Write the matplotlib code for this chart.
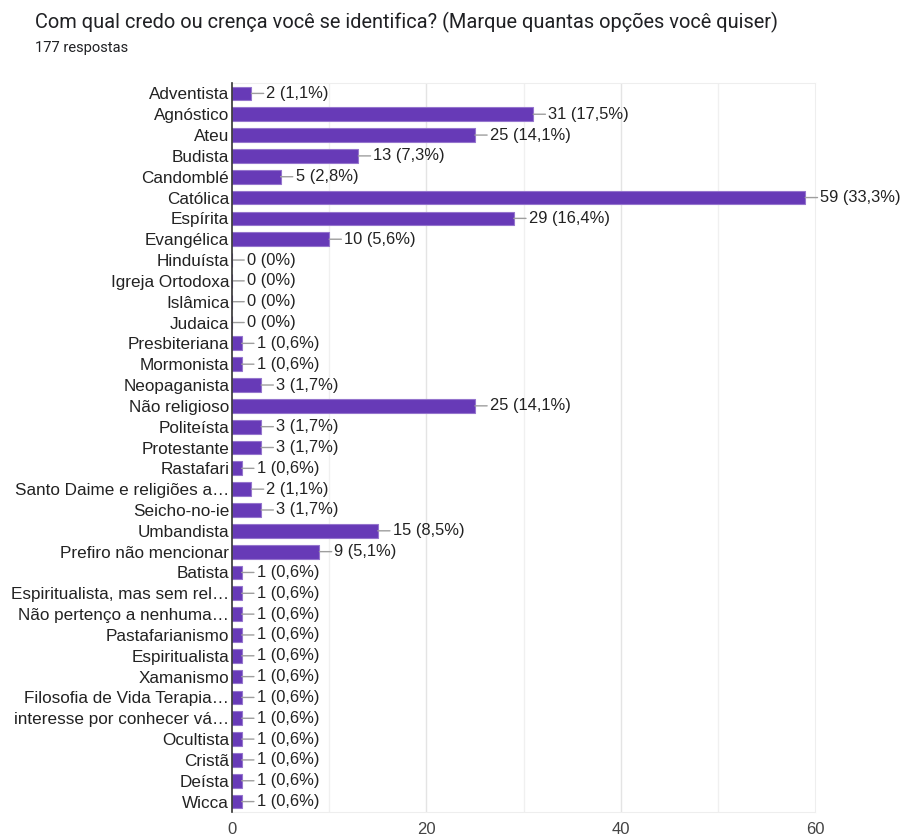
import matplotlib
matplotlib.use("Agg")
import matplotlib.pyplot as plt
import numpy as np

# Dados
categorias = [
    "Adventista", "Agnóstico", "Ateu", "Budista", "Candomblé", "Católica",
    "Espírita", "Evangélica", "Hinduísta", "Igreja Ortodoxa", "Islâmica",
    "Judaica", "Presbiteriana", "Mormonista", "Neopaganista", "Não religioso",
    "Politeísta", "Protestante", "Rastafari", "Santo Daime e religiões a…",
    "Seicho-no-ie", "Umbandista", "Prefiro não mencionar", "Batista",
    "Espiritualista, mas sem rel…", "Não pertenço a nenhuma…",
    "Pastafarianismo", "Espiritualista", "Xamanismo",
    "Filosofia de Vida Terapia…", "interesse por conhecer vá…", "Ocultista",
    "Cristã", "Deísta", "Wicca",
]
valores = [2, 31, 25, 13, 5, 59, 29, 10, 0, 0, 0, 0, 1, 1, 3, 25, 3, 3, 1, 2,
           3, 15, 9, 1, 1, 1, 1, 1, 1, 1, 1, 1, 1, 1, 1]
percentuais = ["1,1", "17,5", "14,1", "7,3", "2,8", "33,3", "16,4", "5,6",
               "0", "0", "0", "0", "0,6", "0,6", "1,7", "14,1", "1,7", "1,7",
               "0,6", "1,1", "1,7", "8,5", "5,1", "0,6", "0,6", "0,6", "0,6",
               "0,6", "0,6", "0,6", "0,6", "0,6", "0,6", "0,6", "0,6"]
ticks_x = [0, 20, 40, 60]

titulo = "Com qual credo ou crença você se identifica? (Marque quantas opções você quiser)"
subtitulo = "177 respostas"

fig = plt.figure(figsize=(9.03, 8.38), dpi=100)
ax = fig.add_axes([232 / 903, 1 - 812 / 838, (815 - 232) / 903, (812 - 83) / 838])

y = np.arange(len(categorias))
ax.barh(y, valores, height=0.66, color="#673ab7", edgecolor="#9575cd",
        linewidth=0.8, zorder=3)

# Rótulos com linha guia
for yi, v, p in zip(y, valores, percentuais):
    ax.annotate(f"{v} ({p}%)", xy=(v, yi), xytext=(15, 0),
                textcoords="offset pixels", va="center", ha="left",
                fontsize=11.9, color="#222222", family="Liberation Sans",
                arrowprops=dict(arrowstyle="-", color="#9e9e9e", lw=1,
                                shrinkA=0, shrinkB=0, relpos=(0, 0.5)),
                zorder=4)

ax.set_xlim(0, 60)
ax.set_ylim(len(categorias) - 0.5, -0.5)
ax.set_yticks(y)
ax.set_yticklabels(categorias, fontsize=12.3, color="#222222", family="Liberation Sans")
ax.set_xticks(ticks_x)
ax.set_xticklabels([str(t) for t in ticks_x], fontsize=12, color="#444444",
                   family="Liberation Sans")
ax.tick_params(axis="both", length=0)
ax.tick_params(axis="y", pad=2)
ax.tick_params(axis="x", pad=7)

for g in np.arange(10, 60, 10):
    ax.axvline(g, color="#f0f0f0" if g % 20 else "#e4e4e4", lw=1, zorder=1)

for s in ["top", "right", "bottom"]:
    ax.spines[s].set_color("#eeeeee")
ax.spines["left"].set_color("#333333")
ax.spines["left"].set_linewidth(1.2)
ax.spines["left"].set_zorder(5)

fig.text(35 / 903, 1 - 22 / 838, titulo, fontsize=14.4, color="#202124",
         family="Roboto", va="center", ha="left")
fig.text(35 / 903, 1 - 48 / 838, subtitulo, fontsize=10.6, color="#202124",
         family="Roboto", va="center", ha="left")

fig.savefig("out.png", dpi=100)
